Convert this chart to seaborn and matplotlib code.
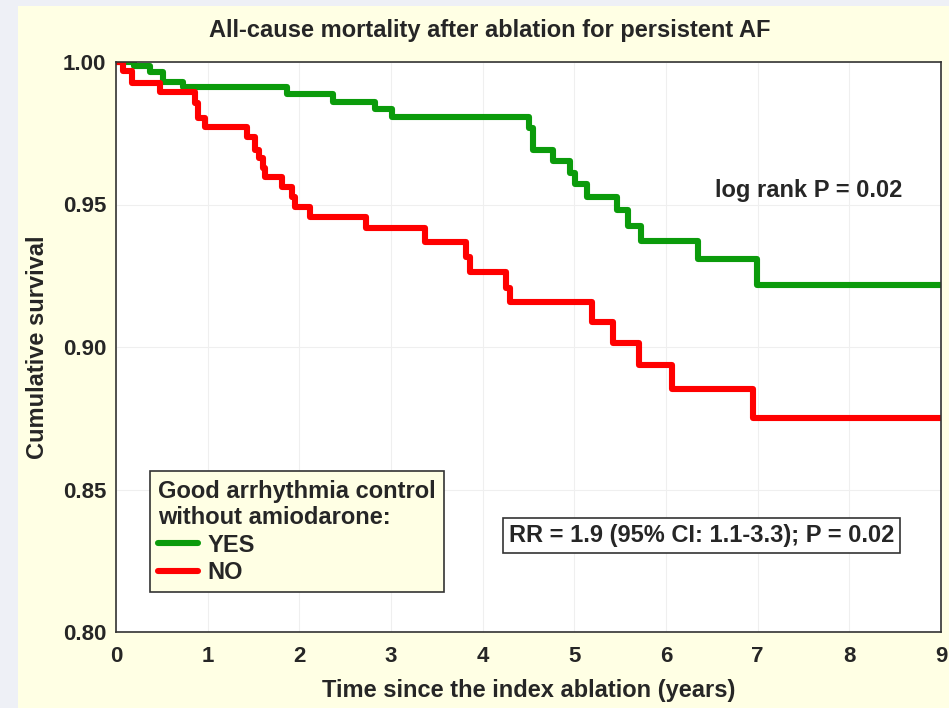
import pandas as pd
import matplotlib
matplotlib.use("Agg")
import matplotlib.pyplot as plt
import seaborn as sns
from matplotlib.lines import Line2D
from matplotlib.patches import Rectangle

# Kaplan-Meier steps
yes_time = [0, 0.20, 0.37, 0.51, 0.73, 1.87, 2.37, 2.83, 3.01, 4.50, 4.55, 4.77,
            4.95, 5.01, 5.14, 5.47, 5.59, 5.73, 6.35, 6.99, 9.0]
yes_surv = [1.0, 0.9985, 0.9966, 0.9931, 0.9911, 0.9887, 0.9861, 0.9834, 0.9808,
            0.9767, 0.9691, 0.9653, 0.9612, 0.9571, 0.9527, 0.9481, 0.9425, 0.9372,
            0.9308, 0.9218, 0.9218]

no_time = [0, 0.08, 0.17, 0.48, 0.86, 0.89, 0.97, 1.43, 1.52, 1.56, 1.60, 1.63,
           1.81, 1.92, 1.95, 2.12, 2.73, 3.37, 3.82, 3.86, 4.25, 4.30, 5.19, 5.42,
           5.70, 6.06, 6.95, 9.0]
no_surv = [1.0, 0.997, 0.9925, 0.9894, 0.9855, 0.9802, 0.9773, 0.9738, 0.9691,
           0.9662, 0.9627, 0.9598, 0.9562, 0.9527, 0.9492, 0.9457, 0.9416, 0.9370,
           0.9317, 0.9264, 0.9206, 0.9159, 0.9089, 0.9013, 0.8937, 0.8851, 0.8750,
           0.8750]

groups = ["YES", "NO"]
colors = {"YES": "#0b9b0b", "NO": "#ff0000"}
x_ticks = [0, 1, 2, 3, 4, 5, 6, 7, 8, 9]
y_ticks = [0.80, 0.85, 0.90, 0.95, 1.00]

df = pd.concat([
    pd.DataFrame({"time": yes_time, "surv": yes_surv, "group": "YES"}),
    pd.DataFrame({"time": no_time, "surv": no_surv, "group": "NO"}),
], ignore_index=True)

sns.set_style("white")
plt.rcParams["font.family"] = ["Liberation Sans", "DejaVu Sans"]
plt.rcParams["font.weight"] = "bold"

bg = "#ffffe4"
fig = plt.figure(figsize=(9.49, 7.08), dpi=100, facecolor=bg)
# screenshot frame at the left/top edge
fig.patches.append(Rectangle((0, 0), 18 / 949, 1, transform=fig.transFigure,
                             facecolor="#eef0f6", edgecolor="none", zorder=-5))
fig.patches.append(Rectangle((0, 1 - 6 / 708), 1, 6 / 708, transform=fig.transFigure,
                             facecolor="#eef0f6", edgecolor="none", zorder=-5))

ax = fig.add_axes([116 / 949, 1 - 632 / 708, 825 / 949, 570 / 708])
ax.set_facecolor("white")

sns.lineplot(data=df, x="time", y="surv", hue="group", palette=colors,
             hue_order=groups, estimator=None, sort=False, drawstyle="steps-post",
             linewidth=4.4, legend=False, ax=ax)

ax.set_xlim(0, 9)
ax.set_ylim(0.80, 1.00)
ax.set_xticks(x_ticks)
ax.set_yticks(y_ticks)
ax.set_yticklabels([f"{v:.2f}" for v in y_ticks])
ax.grid(True, color="#efefef", linewidth=0.8)
ax.tick_params(direction="in", length=4, width=1, labelsize=16)
ax.tick_params(axis="x", pad=10)
ax.tick_params(axis="y", pad=7)
for s in ax.spines.values():
    s.set_color("#333333")
    s.set_linewidth(1.2)

ax.set_xlabel("Time since the index ablation (years)", fontsize=17, fontweight="bold")
ax.xaxis.set_label_coords(0.5, -0.082)
ax.set_ylabel("Cumulative survival", fontsize=17, fontweight="bold")
ax.yaxis.set_label_coords(-0.081, 0.5)

fig.text(490 / 949, 1 - 30 / 708, "All-cause mortality after ablation for persistent AF",
         ha="center", va="center", fontsize=17, fontweight="bold")

ax.text(0.84, 0.774, "log rank P = 0.02", transform=ax.transAxes,
        ha="center", va="center", fontsize=17, fontweight="bold")
ax.text(0.71, 0.170, "RR = 1.9 (95% CI: 1.1-3.3); P = 0.02", transform=ax.transAxes,
        ha="center", va="center", fontsize=17, fontweight="bold",
        bbox=dict(boxstyle="square,pad=0.25", facecolor="white",
                  edgecolor="#333333", linewidth=1.2))

handles = [Line2D([0], [0], color=colors[g], lw=4.4) for g in groups]
leg = ax.legend(handles, groups, title="Good arrhythmia control\nwithout amiodarone:",
                loc="lower left", bbox_to_anchor=(0.041, 0.070), borderaxespad=0,
                fontsize=17, title_fontproperties={"size": 17, "weight": "bold"},
                handlelength=1.7, handletextpad=0.4, labelspacing=0.18,
                borderpad=0.35, fancybox=False, framealpha=1,
                facecolor="#ffffe4", edgecolor="#333333")
leg._legend_box.align = "left"
leg.get_frame().set_linewidth(1.2)

plt.savefig("out.png", dpi=100, facecolor=bg)
